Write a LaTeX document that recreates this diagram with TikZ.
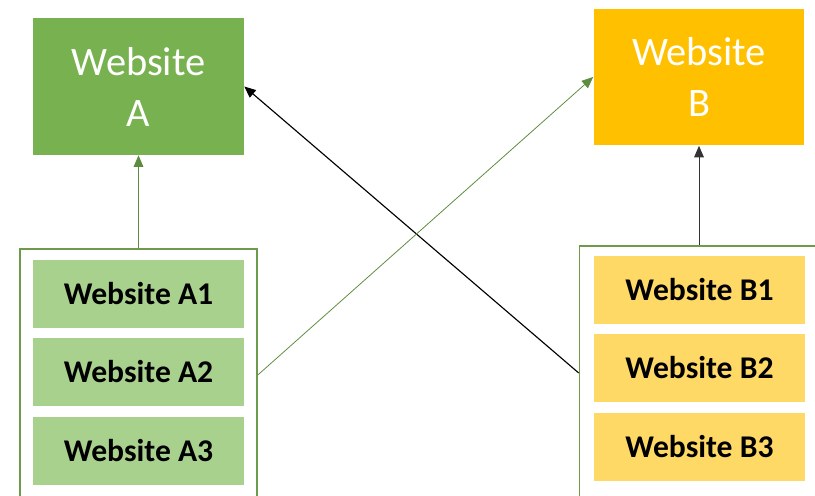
\documentclass[tikz,border=0pt]{standalone}
\usepackage{fontspec}
\setmainfont{Carlito}
\usetikzlibrary{positioning, arrows.meta}
\definecolor{siteagreen}{HTML}{77B150}
\definecolor{siteasoft}{HTML}{A9D18E}
\definecolor{sitebgold}{HTML}{FFC000}
\definecolor{sitebsoft}{HTML}{FFD966}
\definecolor{frameline}{HTML}{6E9A4C}
\definecolor{linkgreen}{HTML}{5E8C3F}

\begin{document}
\begin{tikzpicture}[x=0.02cm, y=-0.02cm,
    site/.style={minimum width=4.22cm, minimum height=2.74cm, inner sep=0pt,
        align=center, font=\fontsize{23}{29}\selectfont, text=white},
    sub/.style={minimum width=4.22cm, minimum height=1.36cm, inner sep=0pt,
        font=\fontsize{18}{20}\selectfont\bfseries, text=black},
    group/.style={draw=frameline, line width=0.9pt, fill=white, inner sep=0pt},
    arr/.style={-{Triangle[length=6.5pt, width=5.5pt]}, line width=0.5pt},
]
\clip (0,0) rectangle (815,495);
\useasboundingbox (0,0) rectangle (815,495);

% ===== Top sites =====
\node[site, fill=siteagreen] (siteA) at (138.5, 86.5) {Website\\A};
\node[site, fill=sitebgold] (siteB) at (699, 77) {Website\\B};

% ===== Groups =====
\node[group, minimum width=4.74cm, minimum height=5.04cm] (groupA) at (138.5, 375) {};
\node[group, minimum width=4.9cm, minimum height=5.08cm] (groupB) at (702, 373) {};

\node[sub, fill=siteasoft] (a1) at (138.5, 293.5) {Website A1};
\node[sub, fill=siteasoft] (a2) at (138.5, 372) {Website A2};
\node[sub, fill=siteasoft] (a3) at (138.5, 451) {Website A3};

\node[sub, fill=sitebsoft] (b1) at (699.5, 289.5) {Website B1};
\node[sub, fill=sitebsoft] (b2) at (699.5, 368) {Website B2};
\node[sub, fill=sitebsoft] (b3) at (699.5, 447) {Website B3};

% ===== Links =====
\draw[arr, linkgreen] (groupA.north) -- (siteA.south);
\draw[arr, black!80] (groupB.north -| siteB.south) -- (siteB.south);
\draw[arr, black, line width=0.65pt] (groupB.west) -- (siteA.east);
\draw[arr, linkgreen, line width=0.45pt] (groupA.east) -- (siteB.west);

\end{tikzpicture}
\end{document}
